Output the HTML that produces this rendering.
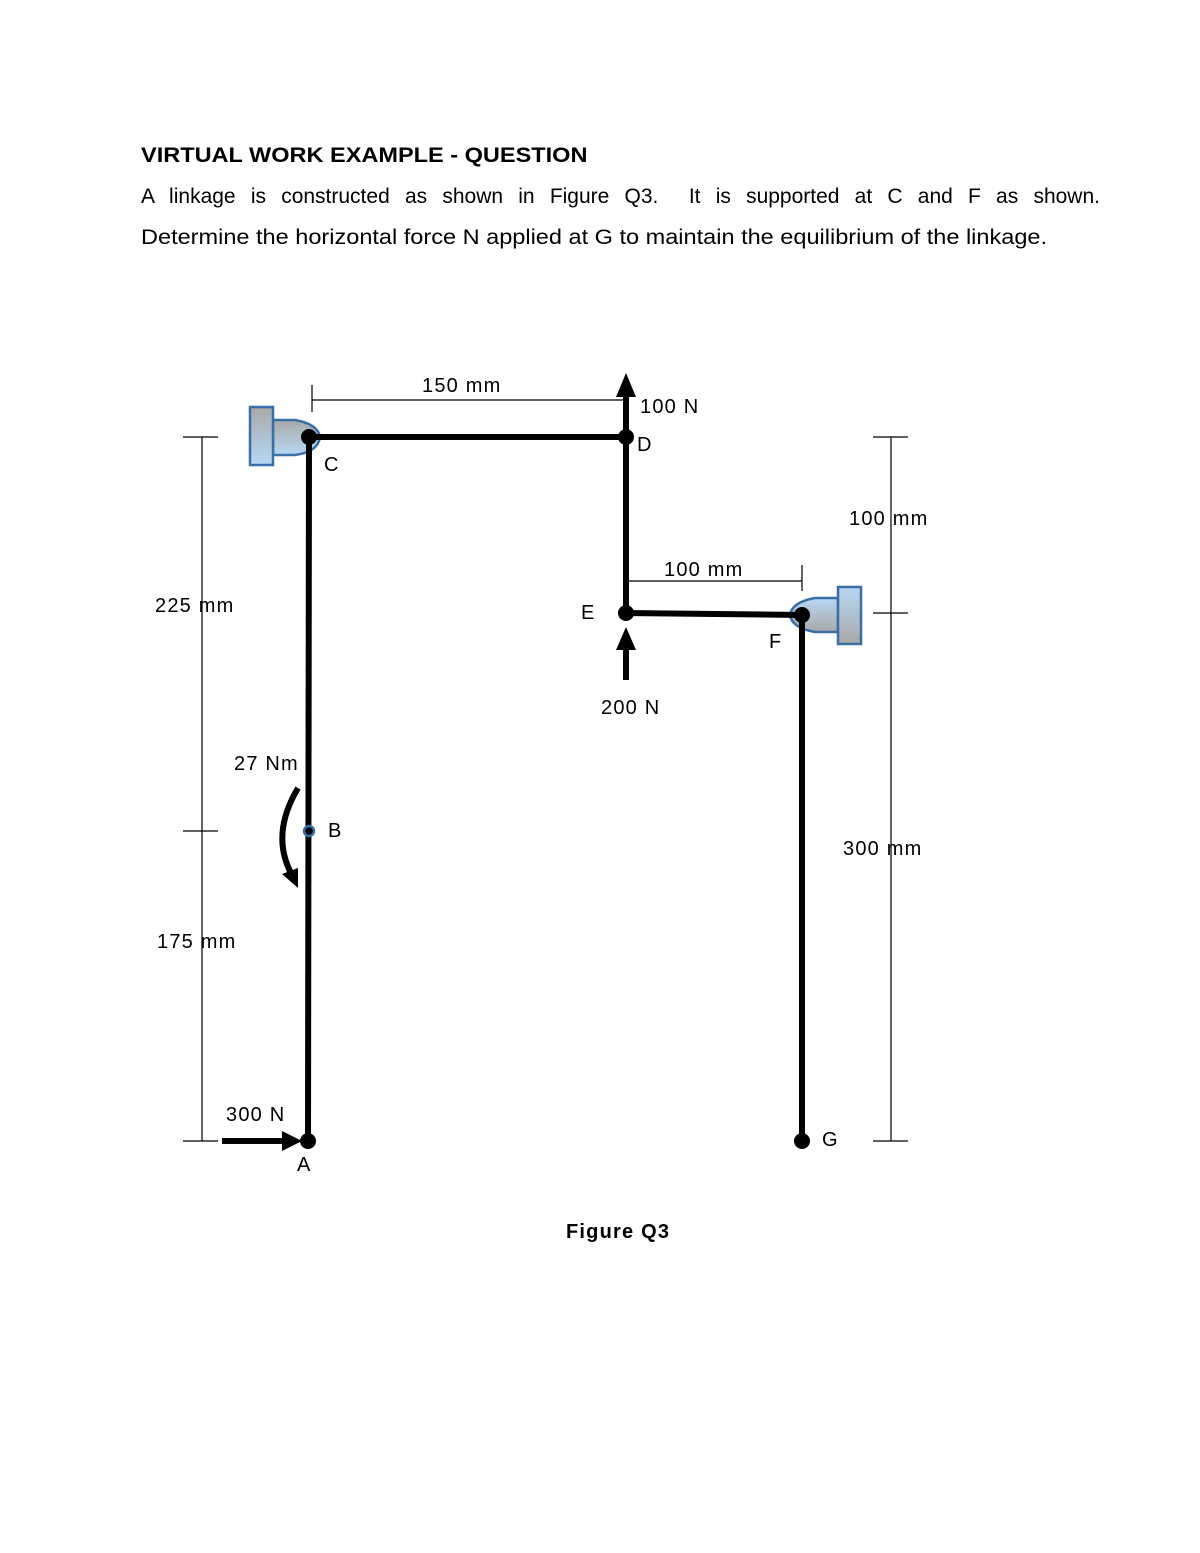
<!DOCTYPE html>
<html><head><meta charset="utf-8"><style>
body{margin:0;background:#fff;}
.t{position:absolute;left:141px;font-family:"Liberation Sans",sans-serif;font-size:21px;color:#000;transform-origin:0 0;white-space:nowrap;}
</style></head><body>
<div style="position:relative;width:1200px;height:1553px;overflow:hidden">
<div class="t" style="top:144px;font-weight:bold;transform:scaleX(1.12)">VIRTUAL WORK EXAMPLE - QUESTION</div>
<div class="t" style="top:185px;width:959px;text-align:justify;text-align-last:justify;white-space:normal">A linkage is constructed as shown in Figure Q3.&nbsp; It is supported at C and F as shown.</div>
<div class="t" style="top:226px;transform:scaleX(1.12)">Determine the horizontal force N applied at G to maintain the equilibrium of the linkage.</div>
<svg width="1200" height="1553" style="position:absolute;left:0;top:0" font-family="Liberation Sans, sans-serif" font-size="20" letter-spacing="1.2">
<defs>
<linearGradient id="g1" x1="0" y1="0" x2="0" y2="1"><stop offset="0" stop-color="#a8a8a8"/><stop offset="1" stop-color="#b8d8f4"/></linearGradient>
<linearGradient id="g2" x1="0" y1="0" x2="0" y2="1"><stop offset="0" stop-color="#b8d8f4"/><stop offset="1" stop-color="#a8a8a8"/></linearGradient>
</defs>
<g stroke="#000" stroke-width="1.2" fill="none">
<line x1="202" y1="437" x2="202" y2="1141"/>
<line x1="183" y1="437" x2="218" y2="437"/><line x1="183" y1="831" x2="218" y2="831"/><line x1="183" y1="1141" x2="218" y2="1141"/>
<line x1="891" y1="437" x2="891" y2="1141"/>
<line x1="873" y1="437" x2="908" y2="437"/><line x1="873" y1="613" x2="908" y2="613"/><line x1="873" y1="1141" x2="908" y2="1141"/>
<line x1="312" y1="400" x2="626" y2="400"/><line x1="312" y1="385" x2="312" y2="412"/>
<line x1="626" y1="581" x2="802" y2="581"/><line x1="802" y1="565" x2="802" y2="591"/>
</g>
<path d="M273 420 H295 Q318 424 320 437 Q318 452 295 455 H273 Z" fill="url(#g1)" stroke="#3a6fa6" stroke-width="2.5"/>
<rect x="250" y="407" width="23" height="58" fill="url(#g1)" stroke="#3a6fa6" stroke-width="2.5"/>
<path d="M838 598 H815 Q792 602 790 615 Q792 628 815 632 H838 Z" fill="url(#g2)" stroke="#3a6fa6" stroke-width="2.5"/>
<rect x="838" y="587" width="23" height="57" fill="url(#g2)" stroke="#3a6fa6" stroke-width="2.5"/>
<g stroke="#000" stroke-width="6" fill="none">
<line x1="309" y1="437" x2="626" y2="437"/>
<line x1="309" y1="437" x2="308" y2="1141"/>
<line x1="626" y1="437" x2="626" y2="613"/>
<line x1="626" y1="613" x2="802" y2="615"/>
<line x1="802" y1="615" x2="802" y2="1141"/>
<line x1="626" y1="437" x2="626" y2="395"/>
<line x1="626" y1="680" x2="626" y2="645"/>
<line x1="222" y1="1141" x2="285" y2="1141"/>
<path d="M298 788 Q270 835 292 875"/>
</g>
<polygon points="626,373 616,397 636,397"/>
<polygon points="626,627 616,650 636,650"/>
<polygon points="302,1141 282,1131 282,1151"/>
<polygon points="298,888 282,874 298,868"/>
<g fill="#000">
<circle cx="309" cy="437" r="8"/><circle cx="626" cy="437" r="8"/><circle cx="626" cy="613" r="8"/>
<circle cx="802" cy="615" r="8"/><circle cx="802" cy="1141" r="8"/><circle cx="308" cy="1141" r="8"/>
</g>
<circle cx="309" cy="831" r="5" fill="#000" stroke="#3a6fa6" stroke-width="2.5"/>
<text x="422" y="392">150 mm</text>
<text x="640" y="413">100 N</text>
<text x="637" y="451">D</text>
<text x="324" y="471">C</text>
<text x="849" y="525">100 mm</text>
<text x="664" y="576">100 mm</text>
<text x="155" y="612">225 mm</text>
<text x="581" y="619">E</text>
<text x="769" y="648">F</text>
<text x="601" y="714">200 N</text>
<text x="234" y="770">27 Nm</text>
<text x="328" y="837">B</text>
<text x="843" y="855">300 mm</text>
<text x="157" y="948">175 mm</text>
<text x="226" y="1121">300 N</text>
<text x="297" y="1171">A</text>
<text x="822" y="1146">G</text>
<text x="566" y="1238" font-weight="bold">Figure Q3</text>
</svg>
</div>
</body></html>
